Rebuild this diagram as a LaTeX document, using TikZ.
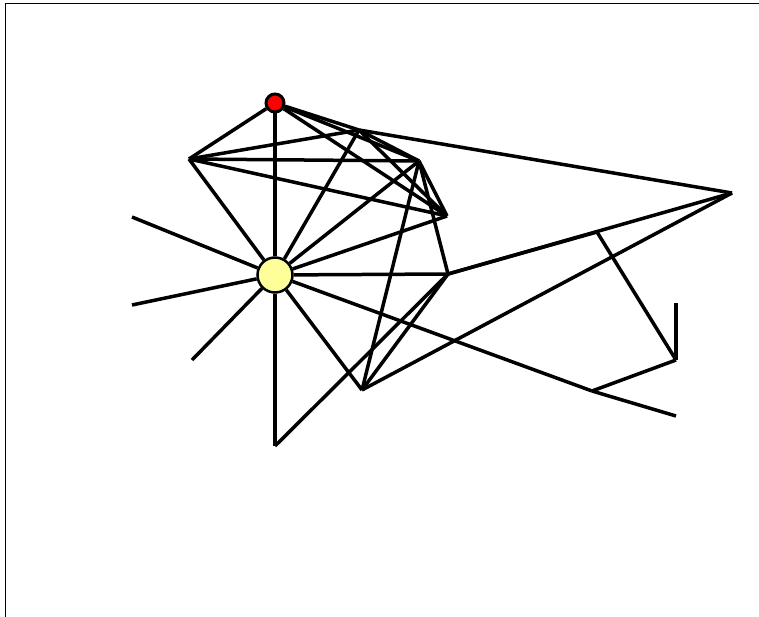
\documentclass[tikz,border=0pt]{standalone}
\usepackage{tikz}
\usetikzlibrary{positioning,backgrounds}
\definecolor{hubyellow}{rgb}{1,1,0.6}

\begin{document}
\begin{tikzpicture}[
  x=1pt, y=-1pt,
  edge/.style={line width=3.5pt, black},
  hub/.style={circle, draw, line width=2.5pt, fill=hubyellow, minimum size=35pt, inner sep=0pt},
  root/.style={circle, draw, line width=3pt, fill=red, minimum size=18pt, inner sep=0pt},
  frameline/.style={line width=1pt, black}
]
\useasboundingbox (0,0) rectangle (759,617);

% frame
\draw[frameline] (5,617) -- (5,4) -- (759,4);

% vertices
\node[hub] (y) at (275,275) {};
\node[root] (r) at (275,103) {};
\coordinate (a) at (189,159);
\coordinate (b) at (359,130);
\coordinate (c) at (419,161);
\coordinate (d) at (447,216);
\coordinate (e) at (448,274);
\coordinate (f) at (732,193);
\coordinate (g) at (597,232);
\coordinate (h) at (676,360);
\coordinate (i) at (676,303);
\coordinate (j) at (592,391);
\coordinate (k) at (676,416);
\coordinate (l) at (362,390);
\coordinate (m) at (275,446);
\coordinate (n) at (132,217);
\coordinate (o) at (132,305);
\coordinate (p) at (192,360);

% connectors
\begin{scope}[on background layer]
  \foreach \t in {r,a,b,c,d,e,n,o,p,m,l,j}
    \draw[edge] (y) -- (\t);
  \foreach \t in {a,b,c,d}
    \draw[edge] (r) -- (\t);
  \foreach \t in {b,c,d}
    \draw[edge] (a) -- (\t);
  \foreach \t in {c,d,f}
    \draw[edge] (b) -- (\t);
  \foreach \t in {d,e,l}
    \draw[edge] (c) -- (\t);
  \foreach \t in {f,g,l,m}
    \draw[edge] (e) -- (\t);
  \draw[edge] (f) -- (l);
  \draw[edge] (g) -- (h);
  \draw[edge] (h) -- (i);
  \draw[edge] (h) -- (j);
  \draw[edge] (j) -- (k);
\end{scope}

\end{tikzpicture}
\end{document}
